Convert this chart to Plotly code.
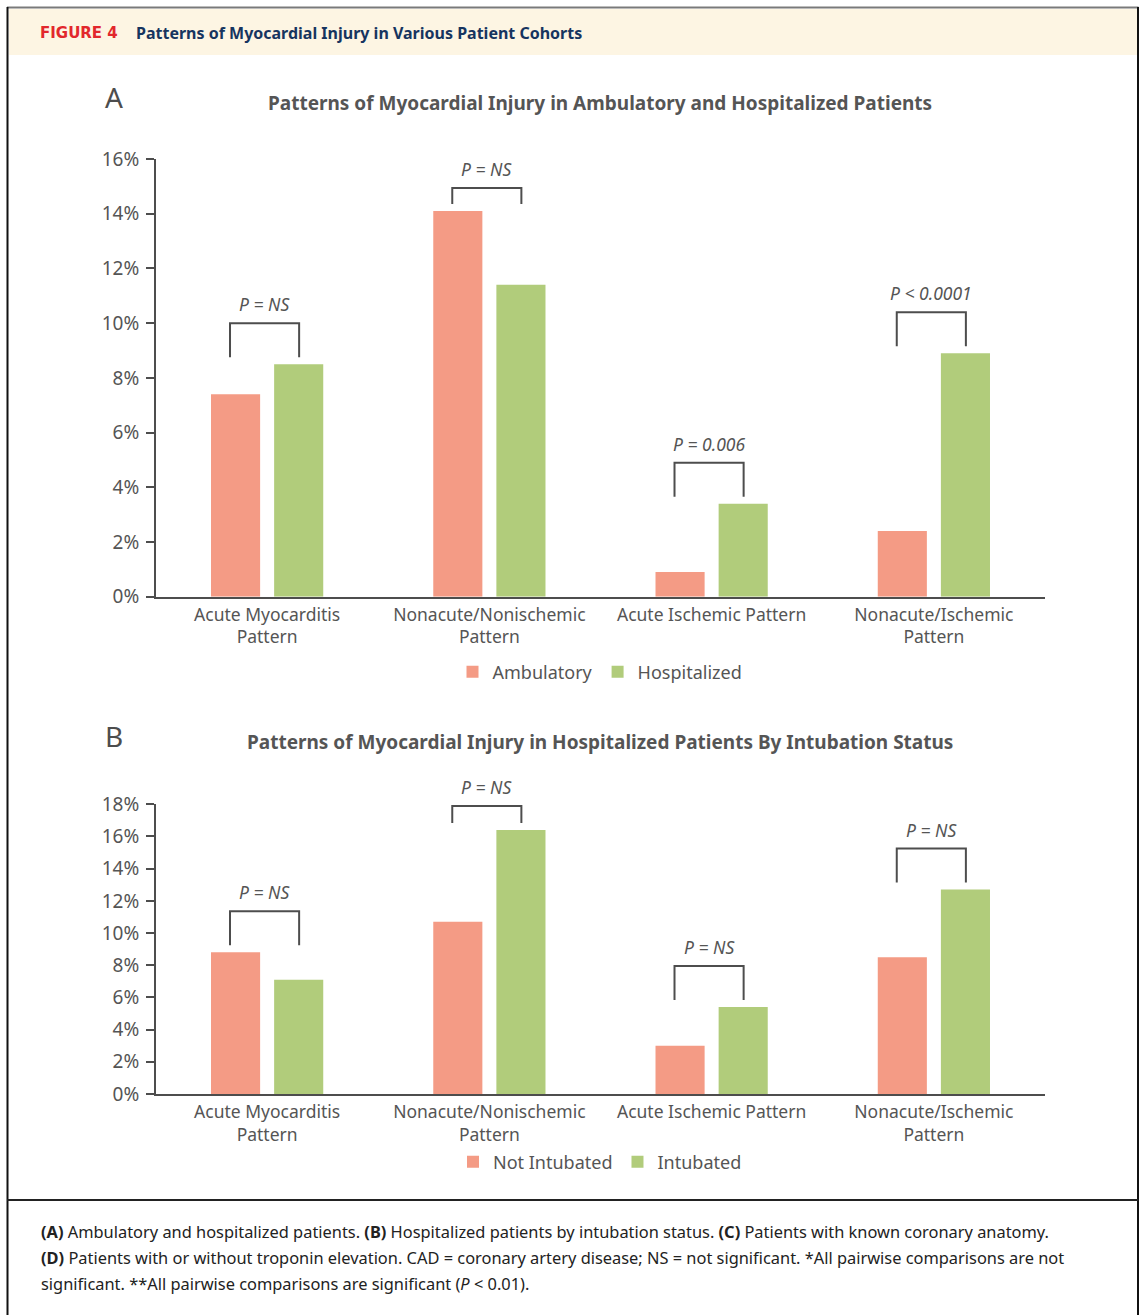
import plotly.graph_objects as go

W, H = 1142, 1315

# ---- data -------------------------------------------------------------
categories = [
    "Acute Myocarditis Pattern",
    "Nonacute/Nonischemic Pattern",
    "Acute Ischemic Pattern",
    "Nonacute/Ischemic Pattern",
]
tick_labels = [
    "Acute Myocarditis<br>Pattern",
    "Nonacute/Nonischemic<br>Pattern",
    "Acute Ischemic Pattern",
    "Nonacute/Ischemic<br>Pattern",
]

# Panel A: ambulatory vs hospitalized (% of patients)
ambulatory = [7.4, 14.1, 0.9, 2.4]
hospitalized = [8.5, 11.4, 3.4, 8.9]
p_text_a = ["P = NS", "P = NS", "P = 0.006", "P &lt; 0.0001"]

# Panel B: hospitalized patients by intubation status (% of patients)
not_intubated = [8.8, 10.7, 3.0, 8.5]
intubated = [7.1, 16.4, 5.4, 12.7]
p_text_b = ["P = NS", "P = NS", "P = NS", "P = NS"]

y_ticks_a = [0, 2, 4, 6, 8, 10, 12, 14, 16]
y_ticks_b = [0, 2, 4, 6, 8, 10, 12, 14, 16, 18]

# ---- styling ----------------------------------------------------------
FONT = "'Noto Sans', Roboto, sans-serif"
SALMON = "#f49b85"
GREEN = "#b1cc7b"
AXIS = "#4d4d4d"
TEXT = "#555555"


def fx(x):
    return x / W


def fy(y):
    return 1 - y / H


# plot areas in page pixels: (left, right, top, bottom)
area_a = (156, 1045, 159, 596.7)
area_b = (156, 1045, 804.3, 1094)

fig = go.Figure()

fig.add_trace(go.Bar(x=categories, y=ambulatory, name="Ambulatory",
                     marker=dict(color=SALMON, line=dict(width=0)),
                     xaxis="x", yaxis="y", legend="legend"))
fig.add_trace(go.Bar(x=categories, y=hospitalized, name="Hospitalized",
                     marker=dict(color=GREEN, line=dict(width=0)),
                     xaxis="x", yaxis="y", legend="legend"))
fig.add_trace(go.Bar(x=categories, y=not_intubated, name="Not Intubated",
                     marker=dict(color=SALMON, line=dict(width=0)),
                     xaxis="x2", yaxis="y2", legend="legend2"))
fig.add_trace(go.Bar(x=categories, y=intubated, name="Intubated",
                     marker=dict(color=GREEN, line=dict(width=0)),
                     xaxis="x2", yaxis="y2", legend="legend2"))


def xaxis_style(area, anchor):
    return dict(
        domain=[fx(area[0]), fx(area[1])], anchor=anchor,
        type="category", range=[-0.5, 3.5], automargin=False,
        tickmode="array", tickvals=categories, ticktext=tick_labels,
        showline=True, linewidth=2, linecolor=AXIS, ticks="",
        showgrid=False, zeroline=False, fixedrange=True,
        tickfont=dict(family=FONT, size=17.5, color=TEXT),
        ticklabelstandoff=1,
    )


def yaxis_style(area, anchor, ticks):
    return dict(
        domain=[fy(area[3]), fy(area[2])], anchor=anchor,
        range=[0, ticks[-1]], automargin=False,
        tickmode="array", tickvals=ticks, ticktext=[f"{t}%" for t in ticks],
        showline=True, linewidth=2, linecolor=AXIS,
        ticks="outside", ticklen=8, tickwidth=2, tickcolor=AXIS,
        showgrid=False, zeroline=False, fixedrange=True,
        tickfont=dict(family=FONT, size=19, color=TEXT),
        ticklabelstandoff=3,
    )


shapes = []
annotations = []

# significance brackets, sized in pixels above the taller bar of each pair
LEFT_OFF, RIGHT_OFF = -0.167, 0.144


def add_brackets(vals1, vals2, labels, area, ymax, xref, yref, heights):
    px_per_unit = (area[3] - area[2]) / ymax
    for i, (a, b, lab) in enumerate(zip(vals1, vals2, labels)):
        base = max(a, b) + 7 / px_per_unit
        top = base + heights[i] / px_per_unit
        x0, x1 = i + LEFT_OFF, i + RIGHT_OFF
        shapes.append(dict(
            type="path", xref=xref, yref=yref,
            path=f"M {x0},{base} L {x0},{top} L {x1},{top} L {x1},{base}",
            line=dict(color=AXIS, width=2),
        ))
        annotations.append(dict(
            x=(x0 + x1) / 2, y=top, xref=xref, yref=yref,
            text=f"<i>{lab}</i>", showarrow=False,
            yanchor="middle", yshift=19,
            font=dict(family=FONT, size=17.5, color=TEXT),
        ))


add_brackets(ambulatory, hospitalized, p_text_a, area_a, 16, "x", "y",
             [34, 16, 34, 34])
add_brackets(not_intubated, intubated, p_text_b, area_b, 18, "x2", "y2",
             [34, 17, 34, 34])

# page frame, header band and caption divider
shapes += [
    dict(type="rect", xref="paper", yref="paper",
         x0=fx(9), x1=fx(1137), y0=fy(55), y1=fy(9),
         fillcolor="#fdf5e3", line=dict(width=0), layer="below"),
    dict(type="line", xref="paper", yref="paper",
         x0=fx(7), x1=fx(1138.5), y0=fy(7.5), y1=fy(7.5),
         line=dict(color="#7a7a7a", width=2)),
    dict(type="line", xref="paper", yref="paper",
         x0=fx(7.5), x1=fx(7.5), y0=fy(1315), y1=fy(7),
         line=dict(color="#111111", width=2)),
    dict(type="line", xref="paper", yref="paper",
         x0=fx(1138), x1=fx(1138), y0=fy(1315), y1=fy(7),
         line=dict(color="#111111", width=2)),
    dict(type="line", xref="paper", yref="paper",
         x0=fx(7), x1=fx(1138.5), y0=fy(1200), y1=fy(1200),
         line=dict(color="#222222", width=2)),
]


def page_text(x, y, text, size, color, xanchor="left", family=FONT):
    annotations.append(dict(
        x=fx(x), y=fy(y), xref="paper", yref="paper", text=text,
        showarrow=False, xanchor=xanchor, yanchor="middle",
        font=dict(family=family, size=size, color=color),
    ))


page_text(38, 33, "<b>FIGURE 4</b>", 15, "#e2272c", family="'DejaVu Sans', sans-serif")
page_text(134, 33, "<b>Patterns of Myocardial Injury in Various Patient Cohorts</b>",
          16, "#16345f")

page_text(114, 97, "A", 28, "#4d4d4d", xanchor="center")
page_text(600, 103, "<b>Patterns of Myocardial Injury in Ambulatory and Hospitalized Patients</b>",
          19, TEXT, xanchor="center")
page_text(114, 736, "B", 28, "#4d4d4d", xanchor="center")
page_text(600, 742, "<b>Patterns of Myocardial Injury in Hospitalized Patients By Intubation Status</b>",
          19, TEXT, xanchor="center")

CAP = "#222222"
page_text(39, 1231,
          "<b>(A)</b> Ambulatory and hospitalized patients. <b>(B)</b> Hospitalized patients "
          "by intubation status. <b>(C)</b> Patients with known coronary anatomy.", 16.4, CAP)
page_text(39, 1257,
          "<b>(D)</b> Patients with or without troponin elevation. CAD = coronary artery "
          "disease; NS = not significant. *All pairwise comparisons are not", 16.4, CAP)
page_text(39, 1283,
          "significant. **All pairwise comparisons are significant (<i>P</i> &lt; 0.01).",
          16.4, CAP)

legend_common = dict(
    orientation="h", xanchor="center", yanchor="middle",
    bgcolor="rgba(0,0,0,0)", borderwidth=0,
    font=dict(family=FONT, size=18, color=TEXT),
    itemclick=False, itemdoubleclick=False, traceorder="normal",
)

fig.update_layout(
    width=W, height=H,
    margin=dict(l=0, r=0, t=0, b=0, autoexpand=False),
    paper_bgcolor="white", plot_bgcolor="white",
    barmode="group", bargap=0.432, bargroupgap=0.222,
    font=dict(family=FONT, color=TEXT),
    xaxis=xaxis_style(area_a, "y"),
    yaxis=yaxis_style(area_a, "x", y_ticks_a),
    xaxis2=xaxis_style(area_b, "y2"),
    yaxis2=yaxis_style(area_b, "x2", y_ticks_b),
    legend=dict(x=fx(600), y=fy(672), **legend_common),
    legend2=dict(x=fx(600), y=fy(1162), **legend_common),
    shapes=shapes, annotations=annotations,
    showlegend=True, hovermode=False,
)

fig.write_html("out.html")
